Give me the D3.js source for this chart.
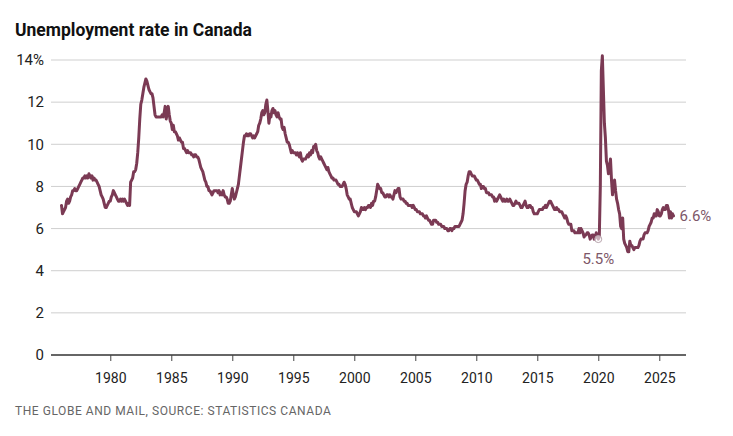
<!DOCTYPE html>
<html>
<head>
<meta charset="utf-8">
<script src="https://cdn.jsdelivr.net/npm/d3@7/dist/d3.min.js"></script>
<style>
  html, body { margin: 0; padding: 0; background: #fff; }
  svg { display: block; }
</style>
</head>
<body>
<div id="chart"></div>
<script>
// ---- Data: monthly unemployment rate (%), seasonally adjusted, Jan 1976 onward ----
const startYear = 1976;
const rates1970s = [
  7.1, 6.7, 6.8, 6.9, 7.0, 7.3, 7.4, 7.2, 7.3, 7.5, 7.6, 7.8,   // 1976
  7.8, 7.9, 7.8, 7.8, 7.9, 8.0, 8.1, 8.2, 8.3, 8.4, 8.4, 8.5,   // 1977
  8.4, 8.5, 8.4, 8.6, 8.5, 8.4, 8.5, 8.3, 8.4, 8.3, 8.3, 8.2,   // 1978
  8.1, 8.0, 7.8, 7.6, 7.5, 7.4, 7.2, 7.0, 7.0, 7.1, 7.2, 7.3    // 1979
];
const rates1980s = [
  7.3, 7.5, 7.6, 7.8, 7.7, 7.6, 7.5, 7.4, 7.3, 7.3, 7.4, 7.3,   // 1980
  7.4, 7.3, 7.4, 7.3, 7.2, 7.1, 7.2, 7.1, 8.2, 8.3, 8.4, 8.7,   // 1981
  8.7, 8.8, 9.1, 9.6, 10.3, 11.2, 11.9, 12.1, 12.4, 12.7, 12.9, 13.1, // 1982
  13.0, 12.8, 12.6, 12.5, 12.4, 12.4, 12.2, 11.8, 11.4, 11.3, 11.3, 11.3, // 1983
  11.3, 11.3, 11.3, 11.4, 11.3, 11.5, 11.8, 11.2, 11.5, 11.8, 11.4, 11.1, // 1984
  11.0, 10.7, 10.9, 10.6, 10.6, 10.5, 10.4, 10.2, 10.3, 10.2, 10.1, 10.1, // 1985
  9.8, 9.8, 9.7, 9.6, 9.7, 9.6, 9.6, 9.6, 9.5, 9.5, 9.4, 9.5,   // 1986
  9.5, 9.4, 9.4, 9.3, 9.1, 8.9, 8.8, 8.7, 8.5, 8.3, 8.2, 8.0,   // 1987
  8.0, 7.8, 7.8, 7.7, 7.6, 7.7, 7.8, 7.8, 7.8, 7.8, 7.7, 7.8,   // 1988
  7.6, 7.7, 7.6, 7.8, 7.6, 7.5, 7.5, 7.4, 7.2, 7.2, 7.3, 7.6    // 1989
];
const rates1990s = [
  7.9, 7.6, 7.4, 7.5, 7.7, 7.9, 8.1, 8.5, 8.9, 9.3, 9.7, 10.1,  // 1990
  10.4, 10.4, 10.5, 10.4, 10.4, 10.5, 10.5, 10.4, 10.3, 10.4, 10.3, 10.4, // 1991
  10.5, 10.6, 10.9, 11.0, 11.2, 11.5, 11.6, 11.4, 11.5, 11.9, 12.1, 11.6, // 1992
  11.0, 11.4, 11.3, 11.6, 11.7, 11.5, 11.6, 11.4, 11.3, 11.5, 11.3, 11.2, // 1993
  11.2, 10.8, 10.7, 10.8, 10.5, 10.3, 10.1, 10.1, 10.0, 9.8, 9.6, 9.7,    // 1994
  9.6, 9.6, 9.6, 9.5, 9.6, 9.5, 9.4, 9.6, 9.3, 9.2, 9.3, 9.3,   // 1995
  9.3, 9.4, 9.5, 9.4, 9.6, 9.5, 9.7, 9.6, 9.9, 9.9, 10.0, 9.7,  // 1996
  9.6, 9.4, 9.3, 9.4, 9.3, 9.2, 9.1, 9.0, 8.9, 8.8, 8.9, 8.7,   // 1997
  8.6, 8.5, 8.4, 8.4, 8.3, 8.3, 8.3, 8.2, 8.1, 8.1, 8.0, 8.0,   // 1998
  8.0, 8.1, 8.2, 8.1, 7.9, 7.6, 7.5, 7.4, 7.4, 7.2, 7.0, 6.9    // 1999
];
const rates2000s = [
  6.8, 6.8, 6.8, 6.7, 6.6, 6.7, 6.8, 7.0, 6.9, 6.9, 7.0, 6.9,   // 2000
  7.0, 7.0, 7.1, 7.1, 7.0, 7.2, 7.1, 7.3, 7.3, 7.5, 7.8, 8.1,   // 2001
  8.0, 7.9, 7.9, 7.7, 7.7, 7.6, 7.5, 7.5, 7.6, 7.6, 7.5, 7.6,   // 2002
  7.5, 7.5, 7.4, 7.6, 7.8, 7.7, 7.8, 7.9, 7.9, 7.5, 7.4, 7.4,   // 2003
  7.4, 7.3, 7.3, 7.2, 7.2, 7.1, 7.1, 7.1, 7.1, 7.0, 7.1, 7.0,   // 2004
  6.9, 6.9, 6.8, 6.8, 6.8, 6.7, 6.7, 6.7, 6.6, 6.6, 6.5, 6.6,   // 2005
  6.5, 6.4, 6.4, 6.3, 6.2, 6.2, 6.4, 6.4, 6.4, 6.3, 6.3, 6.2,   // 2006
  6.2, 6.2, 6.1, 6.1, 6.1, 6.0, 6.0, 6.0, 5.9, 5.9, 6.0, 6.0,   // 2007
  5.9, 6.0, 6.0, 6.1, 6.1, 6.1, 6.1, 6.1, 6.2, 6.3, 6.4, 6.7,   // 2008
  7.2, 7.8, 8.1, 8.2, 8.5, 8.7, 8.7, 8.6, 8.5, 8.5, 8.5, 8.4    // 2009
];
const rates2010s = [
  8.3, 8.3, 8.2, 8.1, 8.1, 7.9, 8.0, 8.0, 7.9, 7.9, 7.7, 7.7,   // 2010
  7.7, 7.6, 7.6, 7.6, 7.5, 7.5, 7.3, 7.4, 7.3, 7.4, 7.5, 7.6,   // 2011
  7.5, 7.4, 7.3, 7.4, 7.3, 7.3, 7.4, 7.3, 7.3, 7.4, 7.3, 7.2,   // 2012
  7.1, 7.1, 7.2, 7.3, 7.2, 7.2, 7.2, 7.1, 7.0, 7.0, 7.1, 7.2,   // 2013
  7.3, 7.1, 7.0, 7.0, 7.1, 7.1, 7.0, 7.0, 6.8, 6.7, 6.7, 6.7,   // 2014
  6.7, 6.8, 6.9, 6.9, 6.9, 6.9, 7.0, 7.0, 7.1, 7.0, 7.1, 7.2,   // 2015
  7.3, 7.3, 7.2, 7.1, 7.0, 6.9, 6.9, 7.0, 6.9, 6.9, 6.8, 6.8,   // 2016
  6.8, 6.7, 6.6, 6.5, 6.6, 6.5, 6.3, 6.2, 6.2, 6.2, 5.9, 5.9,   // 2017
  5.9, 5.8, 5.8, 5.8, 5.8, 6.0, 5.8, 6.0, 5.9, 5.8, 5.6, 5.7,   // 2018
  5.7, 5.8, 5.8, 5.7, 5.5, 5.6, 5.7, 5.7, 5.5, 5.6, 5.8, 5.6    // 2019
];
const rates2020s = [
  5.5, 5.6, 8.0, 13.5, 14.2, 12.6, 11.0, 10.3, 9.2, 9.0, 8.6, 8.9,  // 2020
  9.3, 8.3, 7.6, 8.2, 8.3, 7.8, 7.4, 7.2, 6.9, 6.7, 6.1, 6.0,   // 2021
  6.5, 5.5, 5.3, 5.2, 5.1, 4.9, 4.9, 5.4, 5.2, 5.2, 5.1, 5.0,   // 2022
  5.1, 5.1, 5.1, 5.1, 5.2, 5.4, 5.5, 5.5, 5.5, 5.7, 5.8, 5.8,   // 2023
  5.8, 5.9, 6.1, 6.2, 6.3, 6.5, 6.5, 6.7, 6.6, 6.6, 6.9, 6.8,   // 2024
  6.6, 6.6, 6.7, 6.9, 7.0, 6.9, 6.9, 7.1, 7.1, 6.9, 6.5, 6.8,   // 2025
  6.5, 6.7, 6.6                                                 // 2026
];
const yTicks = [0, 2, 4, 6, 8, 10, 12, 14];
const xTicks = [1980, 1985, 1990, 1995, 2000, 2005, 2010, 2015, 2020, 2025];
const xDomain = [1975.14, 2027.19];
const yDomain = [0, 14];
const annotations = [
  { year: 2020, month: 0, label: "5.5%", pos: "below" },
  { year: 2026, month: 2, label: "6.6%", pos: "right" }
];
const titleText = "Unemployment rate in Canada";
const sourceText = "THE GLOBE AND MAIL, SOURCE: STATISTICS CANADA";

// ---- Build series ----
const allRates = [].concat(rates1970s, rates1980s, rates1990s, rates2000s, rates2010s, rates2020s);
const series = allRates.map((v, i) => ({ t: startYear + i / 12, v }));

// ---- Layout ----
const W = 733, H = 436;
const svg = d3.select("#chart").append("svg").attr("width", W).attr("height", H);
svg.append("rect").attr("width", W).attr("height", H).attr("fill", "#fff");

const x = d3.scaleLinear().domain(xDomain).range([51, 686]);
const y = d3.scaleLinear().domain(yDomain).range([355, 60]);

const lineColor = "#7b3a54";
const annoColor = "#7d5768";

// Title
svg.append("text").attr("x", 15).attr("y", 36)
  .attr("font-family", "Roboto, 'Open Sans', sans-serif")
  .attr("font-weight", 700).attr("font-size", 17.5).attr("fill", "#111")
  .text(titleText);

// Gridlines
svg.append("g").selectAll("line").data(yTicks.filter(d => d > 0)).join("line")
  .attr("x1", x.range()[0]).attr("x2", x.range()[1])
  .attr("y1", d => y(d)).attr("y2", d => y(d))
  .attr("stroke", "#cfcfcf").attr("stroke-width", 1);

// Y axis labels
const yAxis = d3.axisLeft(y).tickValues(yTicks).tickSize(0).tickPadding(7)
  .tickFormat(d => d === 14 ? "14%" : d);
const gy = svg.append("g").attr("transform", `translate(${x.range()[0]},0)`).call(yAxis);
gy.select(".domain").remove();
gy.selectAll("text").attr("font-family", "Roboto, sans-serif").attr("font-size", 15)
  .attr("fill", "#222");

// X axis
const xAxis = d3.axisBottom(x).tickValues(xTicks).tickSize(6).tickPadding(12)
  .tickFormat(d3.format("d"));
const gx = svg.append("g").attr("transform", `translate(0,${y(0)})`).call(xAxis);
gx.select(".domain").attr("stroke", "#333").attr("stroke-width", 1.5)
  .attr("d", `M${x.range()[0]},0H${x.range()[1]}`);
gx.selectAll(".tick line").attr("stroke", "#444").attr("stroke-width", 1);
gx.selectAll("text").attr("font-family", "Roboto, sans-serif").attr("font-size", 14)
  .attr("fill", "#222");

// Line
const line = d3.line().x(d => x(d.t)).y(d => y(d.v)).curve(d3.curveLinear);
svg.append("path").datum(series)
  .attr("d", line).attr("fill", "none")
  .attr("stroke", lineColor).attr("stroke-width", 3)
  .attr("stroke-linejoin", "round").attr("stroke-linecap", "round");

// Annotations
annotations.forEach(a => {
  const idx = (a.year - startYear) * 12 + a.month;
  const d = series[idx];
  const px = x(d.t), py = y(d.v);
  if (a.pos === "below") {
    svg.append("circle").attr("cx", px).attr("cy", py).attr("r", 3.5)
      .attr("fill", "#fff").attr("fill-opacity", 0.6)
      .attr("stroke", "#b9a6ae").attr("stroke-width", 1);
    svg.append("text").attr("x", px).attr("y", py + 25)
      .attr("text-anchor", "middle")
      .attr("font-family", "Roboto, sans-serif").attr("font-size", 15)
      .attr("fill", annoColor).text(a.label);
  } else {
    svg.append("text").attr("x", px + 6).attr("y", py + 5)
      .attr("font-family", "Roboto, sans-serif").attr("font-size", 15)
      .attr("fill", annoColor).text(a.label);
  }
});

// Source
svg.append("text").attr("x", 15).attr("y", 415)
  .attr("font-family", "Roboto, sans-serif").attr("font-size", 12)
  .attr("fill", "#666").attr("letter-spacing", 0.55)
  .text(sourceText);
</script>
</body>
</html>
